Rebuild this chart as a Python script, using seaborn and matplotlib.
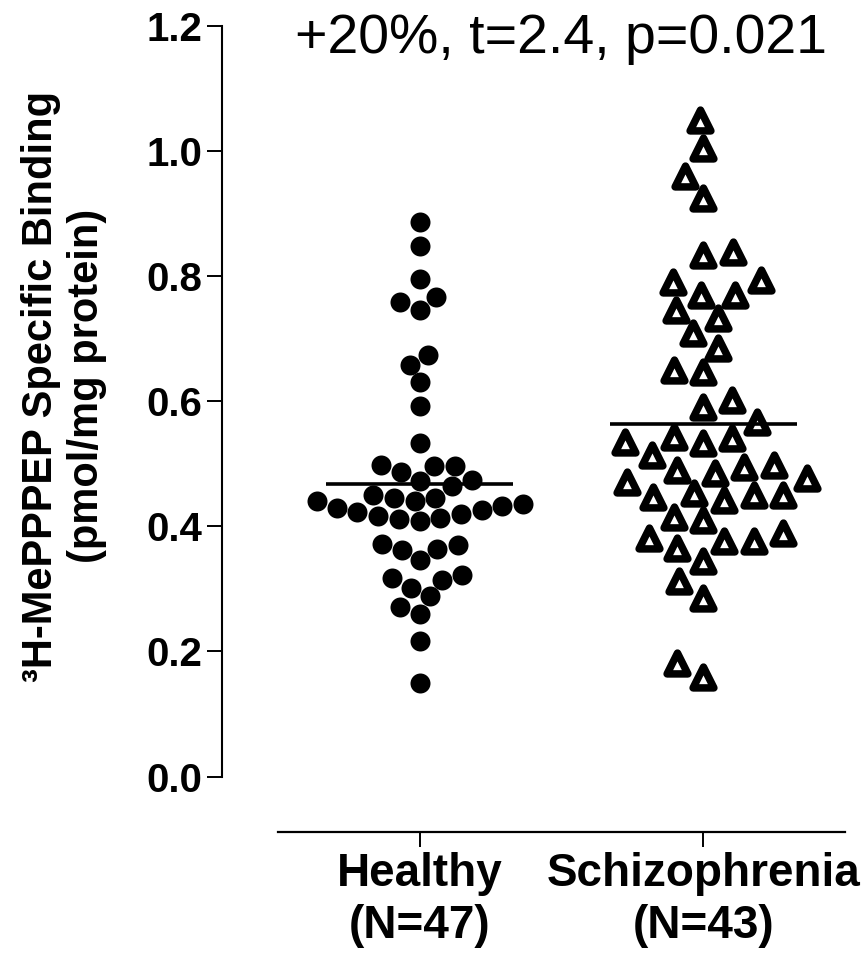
import matplotlib

matplotlib.use("Agg")
import matplotlib.pyplot as plt
import numpy as np
import pandas as pd
import seaborn as sns

# values (pmol/mg protein)
healthy = [
    0.886, 0.848, 0.796, 0.766, 0.758, 0.746, 0.673, 0.658, 0.630, 0.593, 0.533,
    0.497, 0.487, 0.473, 0.465, 0.474, 0.497, 0.498,
    0.450, 0.445, 0.440, 0.433, 0.426, 0.420, 0.414, 0.409, 0.412, 0.417, 0.423,
    0.429, 0.435, 0.441, 0.446,
    0.370, 0.362, 0.346, 0.364, 0.372,
    0.322, 0.314, 0.288, 0.301, 0.271, 0.317,
    0.260, 0.217, 0.149,
]
schizophrenia = [
    1.049, 1.004, 0.960, 0.924, 0.834, 0.839, 0.794, 0.791, 0.770, 0.770,
    0.746, 0.733, 0.709, 0.685,
    0.650, 0.646, 0.591, 0.602, 0.567,
    0.543, 0.535, 0.533, 0.541, 0.514,
    0.495, 0.485, 0.471, 0.477, 0.490, 0.498,
    0.450, 0.447, 0.442, 0.450, 0.453,
    0.415, 0.410,
    0.381, 0.376, 0.365, 0.376, 0.389,
    0.344, 0.312, 0.285, 0.181, 0.160,
]
groups = ["Healthy", "Schizophrenia"]
tick_labels = ["Healthy\n(N=47)", "Schizophrenia\n(N=43)"]
y_ticks = [0.0, 0.2, 0.4, 0.6, 0.8, 1.0, 1.2]
title = "+20%, t=2.4, p=0.021"
ylabel = "³H-MePPPEP Specific Binding\n(pmol/mg protein)"

sns.set_style("ticks")
plt.rcParams["font.family"] = ["Liberation Sans", "DejaVu Sans"]
plt.rcParams["text.color"] = "black"
plt.rcParams["axes.labelcolor"] = "black"

df = pd.DataFrame(
    {
        "group": ["Healthy"] * len(healthy) + ["Schizophrenia"] * len(schizophrenia),
        "value": healthy + schizophrenia,
    }
)

fig = plt.figure(figsize=(8.66, 9.58), dpi=100)
ax = fig.add_axes([0.321, 0.1893, 0.6547, 0.7839])

sns.swarmplot(
    data=df[df["group"] == "Healthy"], x="group", y="value", order=groups,
    marker="o", color="black", size=14.4, linewidth=0, ax=ax,
)
sns.swarmplot(
    data=df[df["group"] == "Schizophrenia"], x="group", y="value", order=groups,
    marker="^", color="white", edgecolor="black", linewidth=5.4, size=15, ax=ax,
)

# group means
for i, g in enumerate(groups):
    m = df.loc[df["group"] == g, "value"].mean()
    ax.hlines(m, i - 0.33, i + 0.33, color="black", lw=2.6, zorder=5)

ax.set_xlim(-0.5, 1.5)
ax.set_ylim(0, 1.2)

sns.despine(ax=ax, offset=40)
ax.spines["left"].set_linewidth(1.5)
ax.spines["bottom"].set_linewidth(1.6)
ax.spines["left"].set_color("black")
ax.spines["bottom"].set_color("black")
ax.tick_params(axis="y", length=10.8, width=1.4, pad=3.4, colors="black", labelsize=29)
ax.tick_params(axis="x", length=10.6, width=1.4, pad=3.5, colors="black", labelsize=33)

ax.set_yticks(y_ticks)
ax.set_yticklabels([f"{v:.1f}" for v in y_ticks])
ax.set_xticks([0, 1])
ax.set_xticklabels(tick_labels, linespacing=1.25)
for lab in ax.get_xticklabels() + ax.get_yticklabels():
    lab.set_fontweight("bold")

ax.set_xlabel("")
ax.set_ylabel(ylabel, fontsize=30, fontweight="bold", va="center")
ax.yaxis.set_label_coords(-0.378, 0.52)

ax.text(0.5, 0.9637, title, transform=ax.transAxes, ha="center",
        va="baseline", fontsize=40, color="black")

fig.savefig("out.png", dpi=100)
